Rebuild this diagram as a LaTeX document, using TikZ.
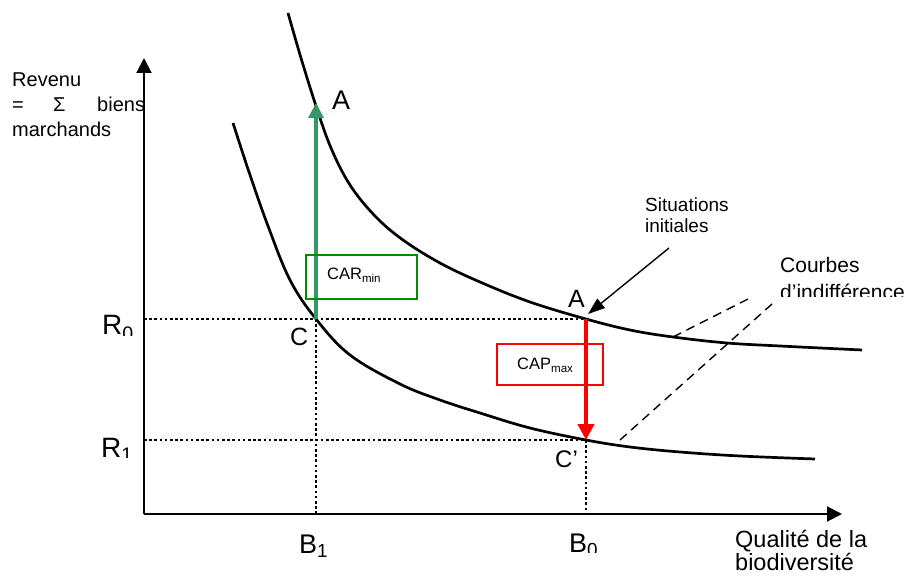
\documentclass[tikz,border=0pt]{standalone}
\usepackage{fontspec}
\setmainfont{Liberation Sans}
\usetikzlibrary{arrows.meta}
\definecolor{arrgreen}{RGB}{51,153,102}
\definecolor{boxgreen}{RGB}{0,140,0}
\definecolor{arrred}{RGB}{255,0,0}
\newcommand{\fsz}[1]{\fontsize{#1}{#1}\selectfont}
\tikzset{
  curve/.style={line width=2.7pt, black},
  axis/.style={line width=2pt, black, -{Triangle[length=15pt,width=15pt]}},
  dotline/.style={line width=2.8pt, dash pattern=on 2.6pt off 2.6pt},
  dashline/.style={line width=1.4pt, dash pattern=on 9pt off 6pt},
  lbl/.style={inner sep=0pt, anchor=base west},
  gbox/.style={draw=boxgreen, line width=1.3pt, minimum width=111pt, minimum height=44pt, inner sep=0pt},
  rbox/.style={draw=arrred, line width=1.1pt, minimum width=106pt, minimum height=41pt, inner sep=0pt},
}
\begin{document}
\begin{tikzpicture}[x=1pt,y=-1pt]
\useasboundingbox (0,0) rectangle (908,577);
% key points
\coordinate (O) at (144,514);
\coordinate (Ytop) at (144,58);
\coordinate (Xend) at (842,514);
\coordinate (C) at (316,319);
\coordinate (Atop) at (316,103);
\coordinate (A) at (586,319);
\coordinate (Cp) at (586,440);
% axes
\draw[axis] (O) -- (Ytop);
\draw[axis] (O) -- (Xend);
% dotted guides
\draw[dotline] (O |- C) -- (A);
\draw[dotline] (O |- Cp) -- (Cp);
\draw[dotline] (C) -- (C |- O);
\draw[dotline] (Cp) -- (Cp |- O);
% indifference curves
\draw[curve] plot[smooth, tension=0.6] coordinates {(288,13) (301,58) (316,106) (331,148) (350,185) (375,216) (403,240) (440,263) (480,282) (530,302) (586,319) (630,330) (673,337) (727,343) (780,346) (862,350)};
\draw[curve] plot[smooth, tension=0.6] coordinates {(233,123) (249,172) (268,226) (290,280) (316,319) (350,355) (400,384) (440,400) (480,413) (530,428) (586,440) (630,447) (680,452) (740,456) (815,459)};
% CAR / CAP arrows
\draw[line width=4pt, arrgreen, -{Triangle[length=15pt,width=15pt]}] (C) -- (Atop);
\draw[line width=4.5pt, arrred, -{Triangle[length=16pt,width=16pt]}] (A) -- (Cp);
% boxes
\node[gbox] (car) at (361.5,277) {};
\node[lbl] (cartxt) at (327,280) {\fsz{16.5}CAR\textsubscript{min}};
\node[rbox] (cap) at (550,364.5) {};
\node[lbl] (captxt) at (517,370) {\fsz{16.5}CAP\textsubscript{max}};
% point labels
\node[lbl] (lA1) at (332,110) {\fsz{27}A};
\node[lbl] (lA2) at (568,308) {\fsz{25}A};
\node[lbl] (lC) at (290,345) {\fsz{25}C};
\node[lbl] (lCp) at (555,467) {\fsz{24}C’};
% axis value labels (subscripts clipped as in the original)
\begin{scope}
\clip (90,300) rectangle (140,335.5);
\node[lbl] (lR0) at (102,335) {\fsz{28}R\textsubscript{0}};
\end{scope}
\begin{scope}
\clip (90,420) rectangle (140,457.5);
\node[lbl] (lR1) at (101,457) {\fsz{28}R\textsubscript{1}};
\end{scope}
\begin{scope}
\clip (290,525) rectangle (340,557);
\node[lbl] (lB1) at (299,553) {\fsz{27}B\textsubscript{1}};
\end{scope}
\begin{scope}
\clip (560,525) rectangle (610,552.5);
\node[lbl] (lB0) at (569,552) {\fsz{27}B\textsubscript{0}};
\end{scope}
% y axis title
\node[lbl] (rev1) at (12,87) {\fsz{20}Revenu};
\node[lbl] (rev2a) at (12,112) {\fsz{20}=};
\node[lbl] (rev2b) at (53,112) {\fsz{20}Σ};
\node[lbl] (rev2c) at (97,112) {\fsz{20}biens};
\node[lbl] (rev3) at (12,137) {\fsz{20}marchands};
% x axis title
\node[lbl] (q1) at (735,547) {\fsz{23.5}Qualité de la};
\node[lbl] (q2) at (735,570) {\fsz{23.5}biodiversité};
% situations initiales
\node[lbl] (s1) at (645,212) {\fsz{19}Situations};
\node[lbl] (s2) at (645,233) {\fsz{19}initiales};
\coordinate (sStart) at (669,248);
\coordinate (sEnd) at (588,314);
\draw[line width=1.4pt, -{Triangle[length=17pt,width=12pt]}] (sStart) -- (sEnd);
% courbes d'indifference
\node[lbl] (c1) at (780,273) {\fsz{21}Courbes};
\begin{scope}
\clip (770,278) rectangle (908,297);
\node[lbl] (c2) at (780,300) {\fsz{21}d’indifférence};
\end{scope}
\coordinate (d1a) at (673,337);
\coordinate (d1b) at (752,297);
\coordinate (d2a) at (620,440);
\coordinate (d2b) at (772,304);
\draw[dashline] (d1a) -- (d1b);
\draw[dashline] (d2a) -- (d2b);
\end{tikzpicture}
\end{document}
